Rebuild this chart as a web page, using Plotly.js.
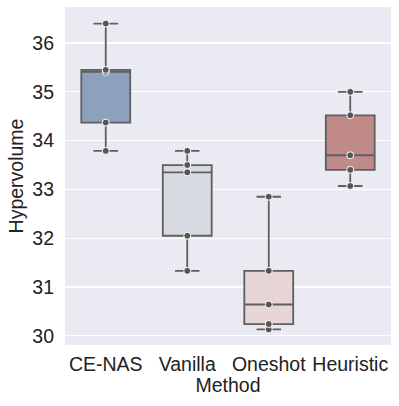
<!DOCTYPE html>
<html>
<head>
<meta charset="utf-8">
<script src="https://cdn.plot.ly/plotly-3.0.1.min.js"></script>
<style>html,body{margin:0;padding:0;background:#fff;}#chart{width:399px;height:406px;}</style>
</head>
<body>
<div id="chart"></div>
<script>
const methods = ["CE-NAS", "Vanilla", "Oneshot", "Heuristic"];
const ceNas = [33.79, 34.37, 35.41, 35.45, 36.40];
const vanilla = [31.33, 32.05, 33.35, 33.50, 33.79];
const oneshot = [30.13, 30.24, 30.64, 31.33, 32.85];
const heuristic = [33.07, 33.40, 33.70, 34.52, 35.00];
const fills = ["#8DA0BC", "#D8DAE2", "#E8D5D6", "#C08A88"];
const yTicks = [30, 31, 32, 33, 34, 35, 36];

const series = [ceNas, vanilla, oneshot, heuristic];
const traces = series.map((vals, i) => ({
  type: "box",
  x: vals.map(() => methods[i]),
  y: vals,
  name: methods[i],
  boxpoints: "all",
  jitter: 0,
  pointpos: 0,
  quartilemethod: "inclusive",
  width: 0.6,
  whiskerwidth: 0.5,
  fillcolor: fills[i],
  line: {color: "#5f5f5f", width: 1.8},
  marker: {color: "#555555", size: 7, line: {color: "#ffffff", width: 1}},
  hoverinfo: "y",
  showlegend: false
}));

const layout = {
  width: 399, height: 406,
  margin: {l: 65, r: 8, t: 7, b: 61},
  paper_bgcolor: "#ffffff",
  plot_bgcolor: "#EAEAF2",
  font: {family: "Liberation Sans, Arial, sans-serif", color: "#222222", size: 19.5},
  showlegend: false,
  xaxis: {
    type: "category",
    categoryorder: "array",
    categoryarray: methods,
    range: [-0.5, 3.5],
    showgrid: false,
    zeroline: false,
    showline: false,
    ticks: "",
    tickfont: {size: 19.5},
    ticklabelstandoff: 5,
    title: {text: "Method", font: {size: 19.5}, standoff: 0}
  },
  yaxis: {
    range: [29.81, 36.74],
    tickvals: yTicks,
    ticktext: yTicks.map(String),
    showgrid: true,
    gridcolor: "#ffffff",
    gridwidth: 1.2,
    zeroline: false,
    showline: false,
    ticks: "",
    tickfont: {size: 19.5},
    ticklabelstandoff: 10,
    title: {text: "Hypervolume", font: {size: 19.5}, standoff: 3}
  }
};

Plotly.newPlot("chart", traces, layout, {displayModeBar: false, staticPlot: true});
</script>
</body>
</html>
